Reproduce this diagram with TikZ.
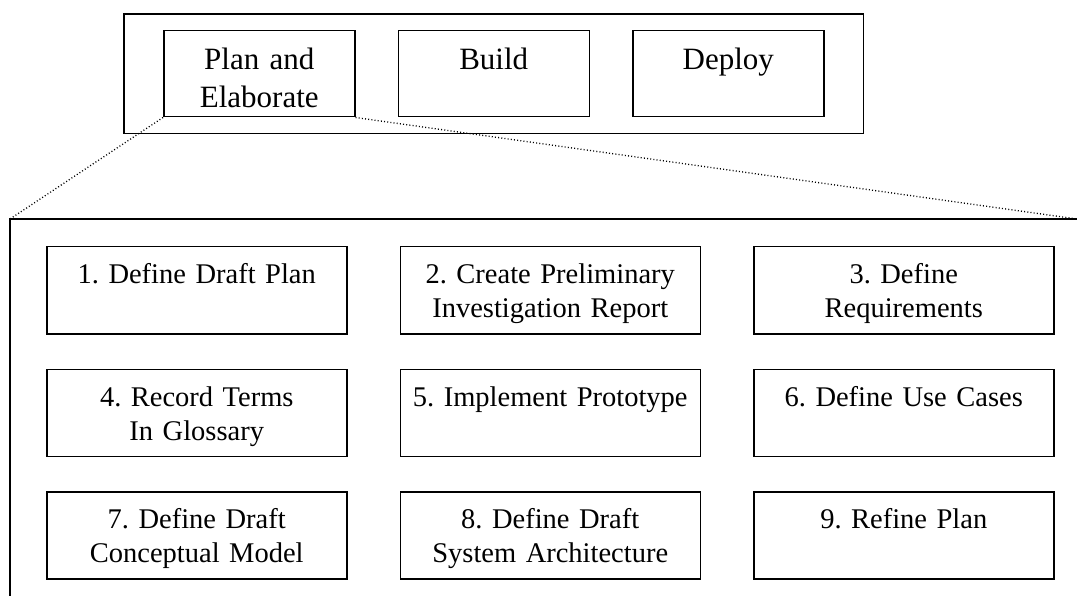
\documentclass[tikz,border=0pt]{standalone}
\usepackage{fontspec}
\setmainfont{Liberation Serif}
\usepackage{tikz}
\usetikzlibrary{positioning, fit}
\frenchspacing

\begin{document}
\begin{tikzpicture}[x=1pt, y=-1pt,
  phase/.style={draw, line width=1.5pt, text width=171pt, align=center,
    inner xsep=10pt, inner ysep=0pt, text height=39pt, text depth=47pt,
    font=\fontsize{31}{37.7}\selectfont},
  stepbox/.style={draw, line width=1.5pt, text width=280pt, align=center,
    inner xsep=10pt, inner ysep=0pt, text height=37pt, text depth=50pt,
    font=\fontsize{28.5}{34}\selectfont},
  zoomline/.style={line width=1.3pt, dash pattern=on 1pt off 2.2pt}]
  \useasboundingbox (0,0) rectangle (1077,596);

  % phases
  \node[phase, anchor=north west] (plan) at (163,30) {Plan and\\Elaborate};
  \node[phase, right=42pt of plan] (build) {Build};
  \node[phase, right=42pt of build] (deploy) {Deploy};
  \node[draw, line width=1.5pt, inner xsep=39pt, inner ysep=16pt, fit=(plan)(deploy)] (phases) {};

  % zoom frame
  \coordinate (zoomtl) at (10,219);
  \coordinate (zoomtr) at (1077,219);
  \coordinate (zoombl) at (10,596);
  \draw[line width=1.5pt] (zoomtr) -- (zoomtl) -- (zoombl);
  \draw[zoomline] (plan.south west) -- (zoomtl);
  \draw[zoomline] (plan.south east) -- (zoomtr);

  % steps
  \node[stepbox, anchor=north west] (s1) at (46,246) {1. Define Draft Plan};
  \node[stepbox, right=52pt of s1] (s2) {2. Create Preliminary\\Investigation Report};
  \node[stepbox, right=52pt of s2] (s3) {3. Define\\Requirements};
  \node[stepbox, below=34pt of s1] (s4) {4. Record Terms\\In Glossary};
  \node[stepbox, right=52pt of s4] (s5) {5. Implement Prototype};
  \node[stepbox, right=52pt of s5] (s6) {6. Define Use Cases};
  \node[stepbox, below=34pt of s4] (s7) {7. Define Draft\\Conceptual Model};
  \node[stepbox, right=52pt of s7] (s8) {8. Define Draft\\System Architecture};
  \node[stepbox, right=52pt of s8] (s9) {9. Refine Plan};
\end{tikzpicture}
\end{document}
